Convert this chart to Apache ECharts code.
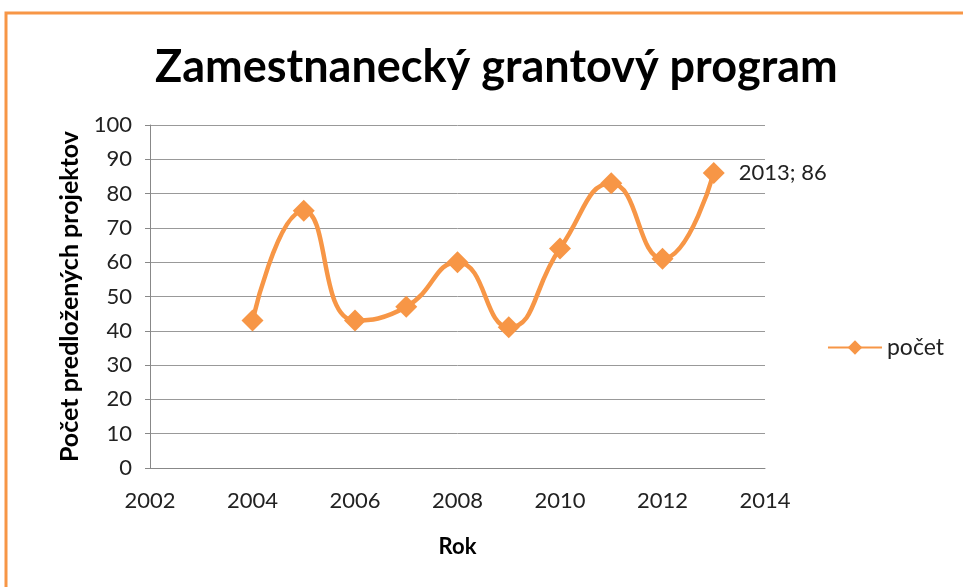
<!DOCTYPE html>
<html><head><meta charset="utf-8">
<script src="https://cdn.jsdelivr.net/npm/echarts@6/dist/echarts.min.js"></script>
<style>html,body{margin:0;padding:0;background:#fff}#c{width:963px;height:587px}</style>
</head><body><div id="c"></div>
<script>
const years = [2004, 2005, 2006, 2007, 2008, 2009, 2010, 2011, 2012, 2013];
const counts = [43, 75, 43, 47, 60, 41, 64, 83, 61, 86];
const xTicks = {min: 2002, max: 2014, interval: 2};
const yTicks = {min: 0, max: 100, interval: 10};
const seriesName = 'počet';

const chart = echarts.init(document.getElementById('c'));
const font = 'Lato, "Open Sans", sans-serif';
chart.setOption({
  animation: false,
  graphic: [{type: 'rect', shape: {x: 6, y: 13, width: 980, height: 600}, style: {fill: 'none', stroke: '#f79646', lineWidth: 3}, silent: true}],
  title: {text: 'Zamestnanecký grantový program', left: 150, top: 40, textStyle: {fontFamily: font, fontWeight: 'bold', fontSize: 45, color: '#000'}},
  legend: {orient: 'vertical', right: 14, top: 331, itemWidth: 54, itemHeight: 18, itemGap: 4, textStyle: {fontFamily: font, fontSize: 23, color: '#222'}, data: [seriesName]},
  grid: {left: 150, right: 198, top: 125, bottom: 119},
  xAxis: {type: 'value', min: xTicks.min, max: xTicks.max, interval: xTicks.interval,
    name: 'Rok', nameLocation: 'middle', nameGap: 68, nameTextStyle: {fontFamily: font, fontWeight: 'bold', fontSize: 22, color: '#000'},
    axisLine: {show: true, lineStyle: {color: '#888'}}, axisTick: {show: false}, splitLine: {show: false},
    axisLabel: {fontFamily: font, fontSize: 22, color: '#222', margin: 22, formatter: v => String(v)}},
  yAxis: {type: 'value', min: yTicks.min, max: yTicks.max, interval: yTicks.interval,
    name: 'Počet predložených projektov', nameLocation: 'middle', nameGap: 63, nameTextStyle: {fontFamily: font, fontWeight: 'bold', fontSize: 25, color: '#000'},
    axisLine: {show: true, lineStyle: {color: '#888'}}, axisTick: {show: true, length: 5, lineStyle: {color: '#888'}},
    splitLine: {lineStyle: {color: '#999', width: 1}},
    axisLabel: {fontFamily: font, fontSize: 22, color: '#222', margin: 18}},
  series: [{name: seriesName, type: 'line', smooth: 0.5, data: years.map((y, i) => [y, counts[i]]),
    symbol: 'diamond', symbolSize: 22, itemStyle: {color: '#f79646'}, lineStyle: {width: 4.5, color: '#f79646'},
    label: {show: true, position: 'right', distance: 14, fontFamily: font, fontSize: 22, color: '#222',
      formatter: p => p.dataIndex === years.length - 1 ? p.value[0] + '; ' + p.value[1] : ''}}]
});
</script></body></html>
